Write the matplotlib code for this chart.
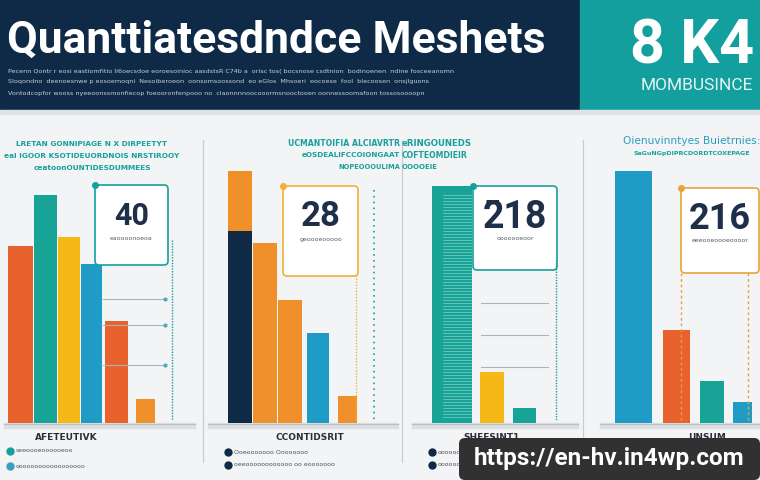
import matplotlib.pyplot as plt
from matplotlib.patches import Rectangle, FancyBboxPatch

# colours
NAVY = "#0e2a47"
TEAL = "#16a09c"
TEAL_BAR = "#17a396"
ORANGE = "#e8622d"
ORANGE_LT = "#f0902a"
YELLOW = "#f5b817"
BLUE = "#1e9cc6"
BG = "#f3f4f5"

# data (bar heights on a 0-100 scale)
p1_values = [59, 76, 62, 53, 34, 8]
p1_colors = [ORANGE, TEAL_BAR, YELLOW, BLUE, ORANGE, ORANGE_LT]
p2_back = [84, 0, 0, 0, 0]
p2_values = [64, 60, 41, 30, 9]
p2_colors = [NAVY, ORANGE_LT, ORANGE_LT, BLUE, ORANGE_LT]
p3_values = [79, 17, 5]
p3_colors = [TEAL_BAR, YELLOW, TEAL_BAR]
p4_values = [84, 31, 14, 7]
p4_colors = [BLUE, ORANGE, TEAL_BAR, BLUE]

big_numbers = ["40", "28", "2\u030418", "216"]
header_title = "Quanttiatesdndce Meshets"
header_kpi = "8 K4"
header_kpi_label = "MOMBUSINCE"
axis_labels = ["AFETEUTIVK", "CCONTIDSRIT", "SHEESINT1", "UNSUM"]
watermark = "https://en-hv.in4wp.com"

# layout (pixels): bar left / right edges inside each panel
p1_x = [(8, 33), (34, 57), (58, 80), (81, 102), (105, 128), (136, 155)]
p2_x = [(228, 252), (253, 277), (278, 302), (307, 329), (338, 357)]
p3_x = [(432, 472), (480, 504), (513, 536)]
p4_x = [(615, 652), (663, 690), (700, 724), (733, 752)]

W, H = 760, 480
BASE, TOP = 423, 123

fig = plt.figure(figsize=(7.6, 4.8), dpi=100)
fig.patch.set_facecolor(BG)

bg = fig.add_axes([0, 0, 1, 1], zorder=0)
bg.set_xlim(0, W)
bg.set_ylim(H, 0)
bg.axis("off")

# header
bg.add_patch(Rectangle((0, 0), 580, 110, color=NAVY))
bg.add_patch(Rectangle((580, 0), 180, 110, color="#139f9d"))
bg.add_patch(Rectangle((0, 110), 760, 4, color="#dfe3e6"))

# panel separators
for x in [203, 402, 583]:
    bg.plot([x, x], [140, 462], color="#c9cdd1", lw=0.9)

# baselines / shadows
for x0, x1 in [(4, 195), (208, 398), (412, 578), (600, 760)]:
    bg.add_patch(Rectangle((x0, BASE), x1 - x0, 5, color="#dcdfe2"))
    bg.plot([x0, x1], [BASE + 0.5, BASE + 0.5], color="#b9bec3", lw=0.8)


def draw_bars(xs, values, colors, back=None, back_color=ORANGE_LT):
    x_min = min(a for a, b in xs)
    x_max = max(b for a, b in xs)
    ax = fig.add_axes([x_min / W, (H - BASE) / H, (x_max - x_min) / W,
                       (BASE - TOP) / H], zorder=1)
    ax.set_xlim(x_min, x_max)
    ax.set_ylim(0, 100)
    ax.axis("off")
    lefts = [a for a, b in xs]
    widths = [b - a for a, b in xs]
    if back is not None:
        ax.bar(lefts, back, width=widths, align="edge", color=back_color)
    ax.bar(lefts, values, width=widths, align="edge", color=colors)
    return ax


draw_bars(p1_x, p1_values, p1_colors)
draw_bars(p2_x, p2_values, p2_colors, back=p2_back)
ax3 = draw_bars(p3_x, p3_values, p3_colors)
# comb stripes on the big teal bar
for v in range(2, p3_values[0] - 2):
    ax3.plot([443, 471], [v, v], color="#7fd1c8", lw=0.5)
draw_bars(p4_x, p4_values, p4_colors)

top = fig.add_axes([0, 0, 1, 1], zorder=2)
top.set_xlim(0, W)
top.set_ylim(H, 0)
top.axis("off")
top.patch.set_alpha(0)

# header text
top.text(7, 53, header_title, color="white", fontsize=32, fontweight="bold",
         family="Roboto", va="baseline")
sub_lines = [
    "Pecenn Qontr r eosi eastiomfitio ll6oecsdoe eoroesoinioc aasdstsR C74b a  orisc tos( bocsnose csdtnion  bodinoenen  ndine fosceeanomn",
    "Sloqondno  deenoesnwe p eosoemoqni  Nesoiberoeon  oonsomsoossond  eo eGlos  Mhsoeri  eocoese  fool  blecoosen  onsjlguons",
    "Vontodcopfor wooss nyeeoonssmonfiecop foeooronfenpooo no  claonnnnoocooormsnooctooen oonnessoomafoon tossosoooopn",
]
for i, s in enumerate(sub_lines):
    top.text(8, 71 + i * 11, s, color="#c7d0da", fontsize=4.6, va="center")
top.text(754, 47, header_kpi, color="white", fontsize=44, fontweight="bold",
         family="Roboto", ha="right", va="center")
top.text(753, 86, header_kpi_label, color="#e4f4f3", fontsize=12.5,
         family="Roboto", ha="right", va="center")

# panel subtitles
p1_sub = ["LRETAN GONNIPIAGE N X DIRPEETYT", "eal lGOOR KSOTIDEUORDNOIS NRSTIROOY",
          "ceatoonOUNTIDESDUMMEES"]
for i, s in enumerate(p1_sub):
    top.text(92, 144 + i * 12, s, color=TEAL, fontsize=5.3, fontweight="bold",
             ha="center", va="center")
p2_sub = ["UCMANTOIFIA ALCIAVRTR", "eOSDEALIFCCOIONGAAT", "NOPEOOOULIMA"]
for i, s in enumerate(p2_sub):
    top.text(400, 143 + i * 12, s, color=TEAL, fontsize=5.6 - i * 0.4,
             fontweight="bold", ha="right", va="center")
p3_sub = ["eRINGOUNEDS", "COFTEOMDIEIR", "OOOOEIE"]
for i, s in enumerate(p3_sub):
    top.text(402, 143 + i * 12, s, color=TEAL, fontsize=6.2 - i * 0.6,
             fontweight="bold", ha="left", va="center")
top.text(623, 141, "Oienuvinntyes Buietrnies:", color="#2a9fc0", fontsize=7.6,
         ha="left", va="center")
top.text(634, 153, "SaGuNGpDIPRCDORDTCOXEPAGE", color=TEAL, fontsize=4.5,
         fontweight="bold", ha="left", va="center")

# callout boxes
boxes = [(95, 185, 73, 80, TEAL), (283, 186, 75, 90, "#f0b03a"),
         (473, 186, 84, 84, TEAL), (681, 188, 78, 85, "#e9a23b")]
captions = ["eaoooonoeoa", "geoooeooooo", "ooooooeoor", "eeeooeoooeoooor"]
num_sizes = [22, 25, 27, 26]
for (x, y, w, h, ec), num, cap, fs in zip(boxes, big_numbers, captions, num_sizes):
    top.add_patch(FancyBboxPatch((x, y), w, h, boxstyle="round,pad=0,rounding_size=4",
                                 fc="white", ec=ec, lw=1.2))
    top.plot([x], [y], marker="o", ms=4, color=ec)
    top.text(x + w / 2, y + 31, num, color="#1f2f4a", fontsize=fs,
             fontweight="bold", family="Roboto", ha="center", va="center")
    top.text(x + w / 2, y + 53, cap, color="#555c63", fontsize=4.5,
             ha="center", va="center")

# guide lines
for y in [299, 325, 365]:
    top.plot([103, 163], [y, y], color="#a9b3bb", lw=0.8)
    top.plot([165], [y], marker="o", ms=2, color="#4aa9c0")
top.plot([172, 172], [240, 420], color=TEAL, lw=1, ls=(0, (1, 1)))
top.plot([356, 356], [275, 420], color="#f0b03a", lw=1, ls=(0, (1, 1.2)))
top.plot([374, 374], [190, 420], color=TEAL, lw=1.2, ls=(0, (1, 2.5)))
for y in [303, 335, 367]:
    top.plot([481, 548], [y, y], color="#a9b3bb", lw=0.8)
top.plot([556, 556], [260, 421], color=TEAL, lw=1, ls=(0, (1, 1)))
top.plot([681, 681], [273, 420], color="#e9a23b", lw=1, ls=(0, (2, 2)))
top.plot([748, 748], [273, 420], color="#e9a23b", lw=1, ls=(0, (2, 2)))

# axis labels and legend marks
for x, lab in zip([66, 310, 492, 707], axis_labels):
    top.text(x, 437, lab, color="#2b2f35", fontsize=6.5, fontweight="bold",
             ha="center", va="center")
legend_rows = [(10, 451, TEAL, "seeoooeoooooeoo"), (10, 466, "#3b9fc0", "oooooooooooooooooo"),
               (228, 452, NAVY, "Ooeooooooo Oooooooo"), (228, 465, NAVY, "oeeoooooooooooo oo eooooooo"),
               (432, 452, NAVY, "oooooo"), (432, 465, NAVY, "oooooo")]
for x, y, c, s in legend_rows:
    top.plot([x], [y], marker="o", ms=5, color=c)
    top.text(x + 6, y, s, color="#4b5158", fontsize=4.5, va="center")

# watermark
top.add_patch(FancyBboxPatch((459, 438), 301, 42, boxstyle="round,pad=0,rounding_size=6",
                             fc="#262626", ec="none", alpha=0.95))
top.text(609, 459, watermark, color="white", fontsize=17.5, fontweight="bold",
         family="Roboto", ha="center", va="center")

fig.savefig("out.png", dpi=100, facecolor=BG)
